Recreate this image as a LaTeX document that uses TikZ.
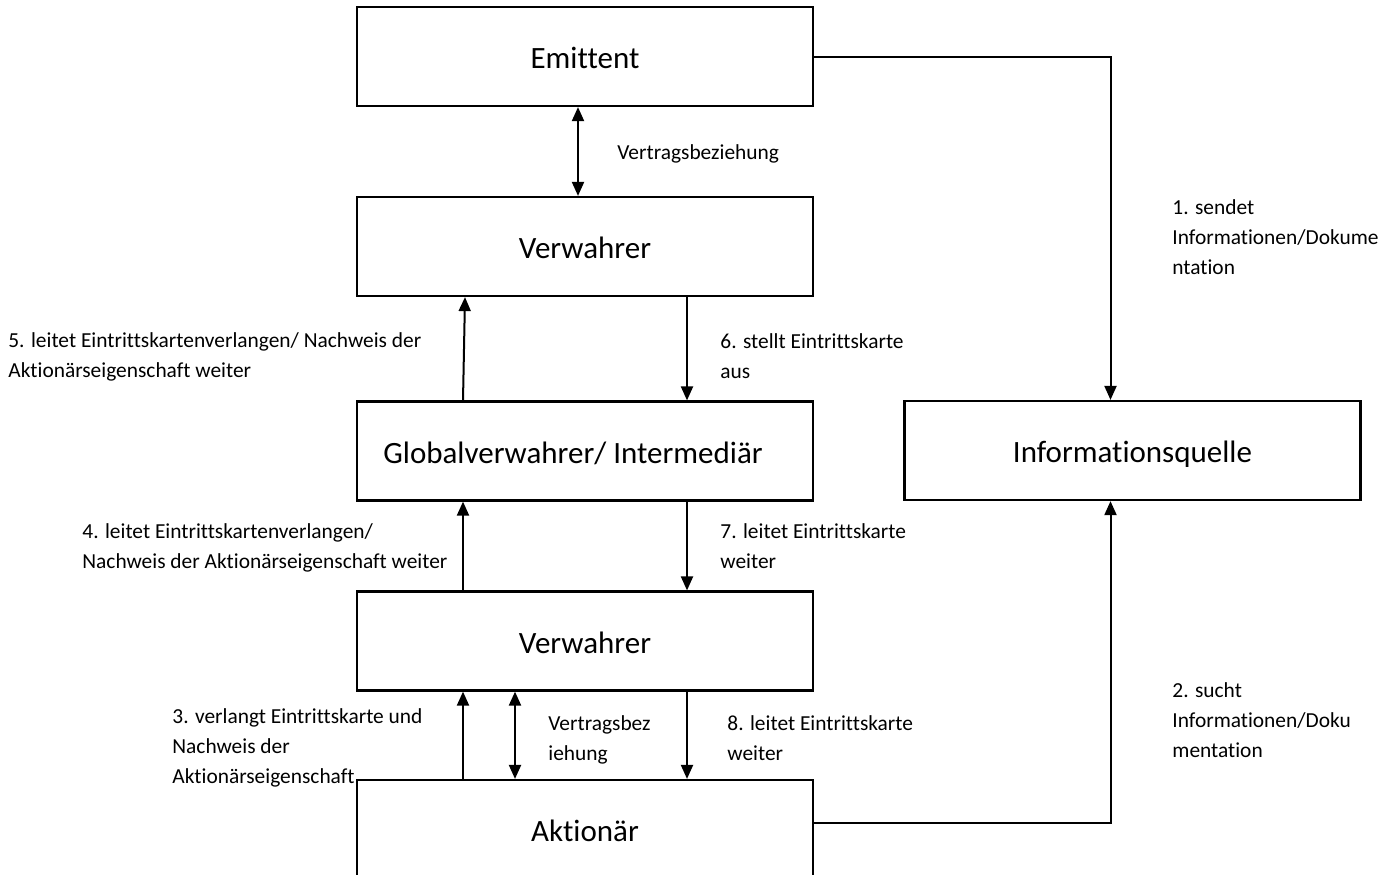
\documentclass[tikz,border=0pt]{standalone}
\usepackage{fontspec}
\setmainfont{Carlito}[Ligatures=CommonOff]
\usetikzlibrary{arrows.meta, positioning}

\begin{document}
\begin{tikzpicture}[x=0.5pt, y=-0.5pt,
  box/.style={draw, line width=1.1pt, minimum width=228pt, minimum height=49.5pt, inner sep=0pt, text height=13pt, text depth=1pt, font=\fontsize{15.5}{18}\selectfont},
  lbl/.style={anchor=north west, inner sep=0pt, align=left, font=\fontsize{10.7}{15}\selectfont},
  arr/.style={line width=1pt, -{Triangle[length=7pt, width=6pt]}},
  darr/.style={line width=1pt, {Triangle[length=7pt, width=6pt]}-{Triangle[length=7pt, width=6pt]}}]
  \useasboundingbox (0,0) rectangle (1382,874);
  \clip (0,0) rectangle (1382,874);

  % Boxes
  \node[box] (emit) at (585,56.5) {Emittent};
  \node[box] (verw1) at (585,246.5) {Verwahrer};
  \node[box] (glob) at (585,451) {Globalverwahrer/ Intermediär\rule{12pt}{0pt}};
  \node[box] (info) at (1132.5,450.5) {Informationsquelle};
  \node[box] (verw2) at (585,641) {Verwahrer};
  \node[box] (akt) at (585,829.5) {Aktionär};

  % Labels
  \node[lbl] (vb1) at (617,144) {Vertragsbeziehung};
  \node[lbl] (l1) at (1172,199) {1. sendet\\Informationen/Dokume\\ntation};
  \node[lbl] (l5) at (8,332) {5. leitet Eintrittskartenverlangen/ Nachweis der\\Aktionärseigenschaft weiter};
  \node[lbl] (l6) at (720,333) {6. stellt Eintrittskarte\\aus};
  \node[lbl] (l4) at (82,523) {4. leitet Eintrittskartenverlangen/\\Nachweis der Aktionärseigenschaft weiter};
  \node[lbl] (l7) at (720,523) {7. leitet Eintrittskarte\\weiter};
  \node[lbl] (l2) at (1172,682) {2. sucht\\Informationen/Doku\\mentation};
  \node[lbl] (l3) at (172,708) {3. verlangt Eintrittskarte und\\Nachweis der\\Aktionärseigenschaft};
  \node[lbl] (vb2) at (548,715) {Vertragsbez\\iehung};
  \node[lbl] (l8) at (727,715) {8. leitet Eintrittskarte\\weiter};

  % Contract relations
  \draw[darr] ([xshift=-3.5pt]emit.south) -- ([xshift=-3.5pt]verw1.north);
  \draw[darr] ([xshift=-35pt]verw2.south) -- ([xshift=-35pt]akt.north);

  % Request chain (upwards)
  \draw[arr] ([xshift=-61pt]akt.north) -- ([xshift=-61pt]verw2.south);
  \draw[arr] ([xshift=-61pt]verw2.north) -- ([xshift=-61pt]glob.south);
  \draw[arr] ([xshift=-61pt]glob.north) -- ([xshift=-60pt]verw1.south);

  % Ticket chain (downwards)
  \draw[arr] ([xshift=51pt]verw1.south) -- ([xshift=51pt]glob.north);
  \draw[arr] ([xshift=51pt]glob.south) -- ([xshift=51pt]verw2.north);
  \draw[arr] ([xshift=51pt]verw2.south) -- ([xshift=51pt]akt.north);

  % Information source
  \draw[arr] (emit.east) -| ([xshift=-11pt]info.north);
  \draw[arr] ([yshift=3.5pt]akt.east) -| ([xshift=-11pt]info.south);
\end{tikzpicture}
\end{document}
